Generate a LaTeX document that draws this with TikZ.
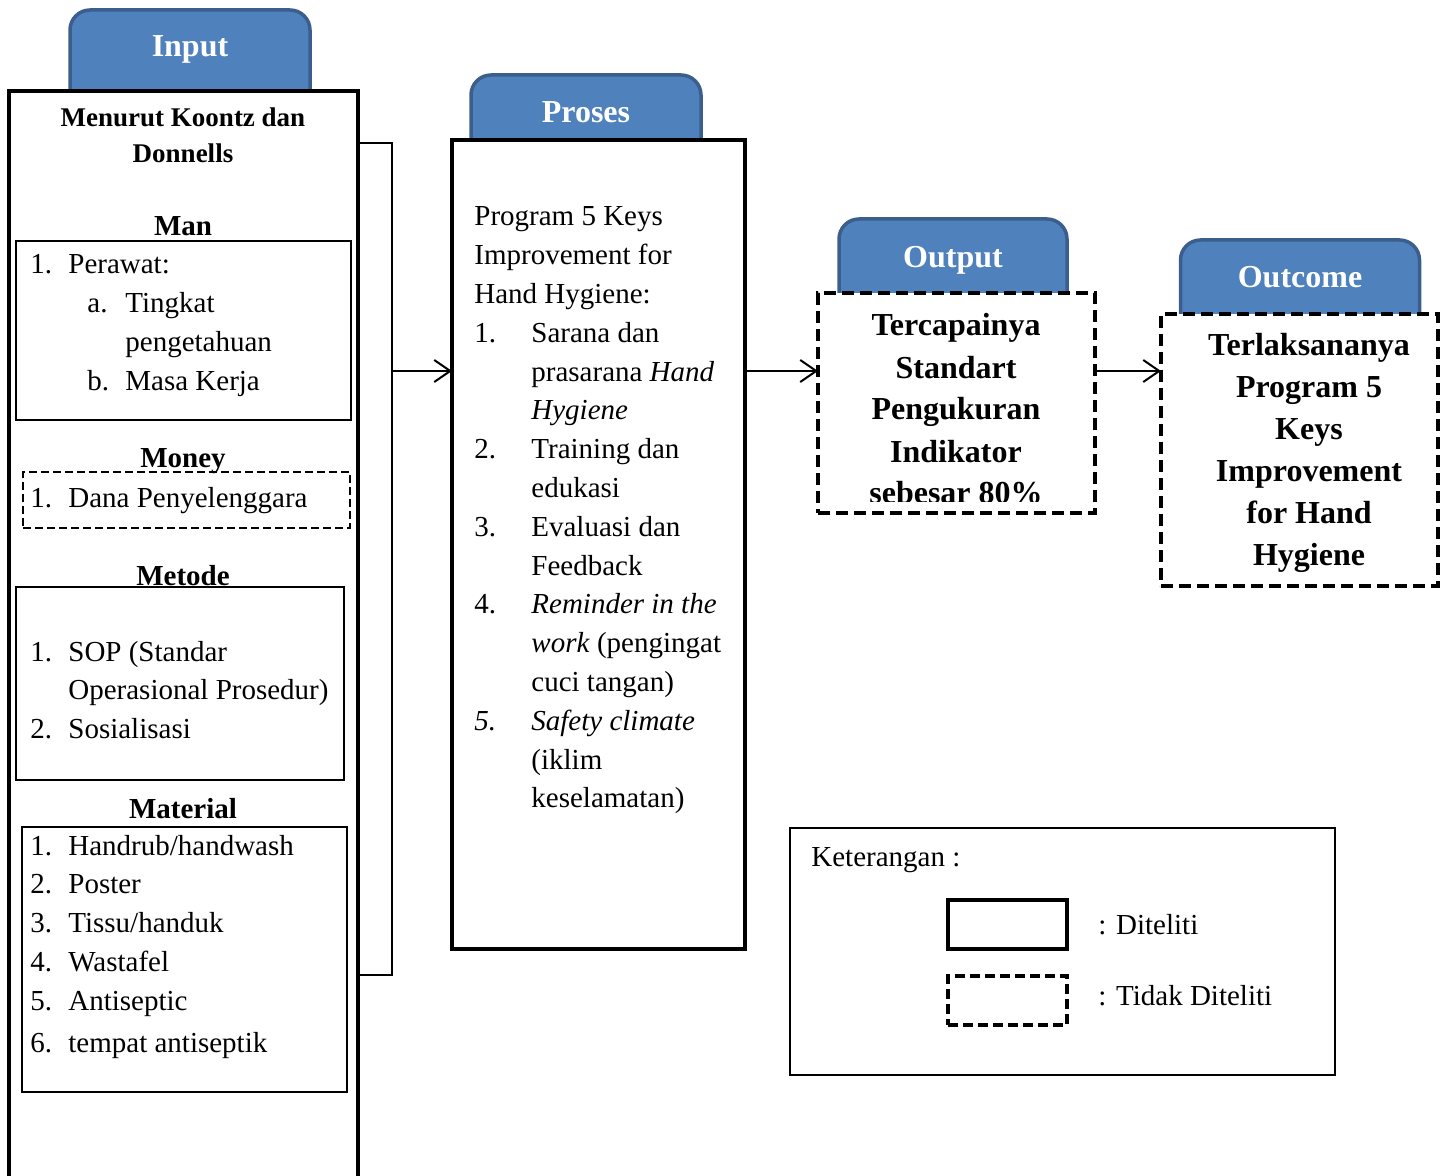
\documentclass[tikz,border=0pt]{standalone}
\usepackage{fontspec}
\setmainfont{Liberation Serif}
\usetikzlibrary{arrows.meta}

\definecolor{tabblue}{HTML}{4F81BD}
\definecolor{tabedge}{HTML}{3B5E8C}

\newcommand{\bodyfont}{\fontsize{14.5pt}{19.4pt}\selectfont}

\tikzset{
  tab/.style={draw=tabedge, line width=1.75pt, fill=tabblue, rounded corners=10pt, anchor=north, inner sep=0pt, outer sep=0pt},
  tabtext/.style={anchor=base, text=white, font=\fontsize{16pt}{19pt}\selectfont\bfseries, inner sep=0pt},
  mainbox/.style={draw, line width=2pt, fill=white, anchor=north west, inner sep=0pt, outer sep=0pt},
  dashbox/.style={draw, line width=2pt, dash pattern=on 6pt off 3pt, fill=white, anchor=north west, inner sep=0pt, outer sep=0pt},
  itembox/.style={draw, line width=1.25pt, anchor=north west, inner sep=0pt, outer sep=0pt},
  head/.style={anchor=base, font=\fontsize{14.5pt}{17pt}\selectfont\bfseries, inner sep=0pt},
  list/.style={anchor=base west, font=\bodyfont, inner sep=0pt},
  bigtext/.style={anchor=base, font=\fontsize{16pt}{21pt}\selectfont\bfseries, inner sep=0pt},
  conn/.style={line width=1pt, -{Straight Barb[length=8pt,width=11pt,line width=1pt]}},
}

\begin{document}
\begin{tikzpicture}[x=0.5pt,y=-0.5pt]
\useasboundingbox (0,0) rectangle (1445,1176);

% input
\node[tab, minimum width=120pt, minimum height=50pt] (inputtab) at (190,10) {};
\node[tabtext] (inputlabel) at (190,57) {Input};
\node[mainbox, minimum width=174.5pt, minimum height=560pt] (inputbox) at (9,91) {};
\node[head, font=\fontsize{13.5pt}{18pt}\selectfont\bfseries] (koontz) at (183,127)
  {\begin{tabular}[t]{@{}c@{}}Menurut Koontz dan\\Donnells\end{tabular}};

% man
\node[head] (man) at (183,236) {Man};
\node[itembox, minimum width=167.5pt, minimum height=89.5pt] (manbox) at (16,241) {};
\node[list] (manlist) at (30,274) {\begin{tabular}[t]{@{}p{19pt}@{}l@{}}
1. & Perawat:\\
   & \hspace{9.5pt}\makebox[19pt][l]{a.}Tingkat\\
   & \hspace{28.5pt}pengetahuan\\
   & \hspace{9.5pt}\makebox[19pt][l]{b.}Masa Kerja
\end{tabular}};

% money
\node[itembox, line width=1pt, dash pattern=on 4pt off 2pt, minimum width=163.5pt, minimum height=28pt] (moneybox) at (23,472) {};
\node[head] (money) at (183,467) {Money};
\node[list] (moneylist) at (30,507) {\begin{tabular}[t]{@{}p{19pt}@{}l@{}}
1. & Dana Penyelenggara
\end{tabular}};

% metode
\node[itembox, minimum width=164pt, minimum height=96.5pt] (metodebox) at (16,587) {};
\node[head] (metode) at (183,585) {Metode};
\node[list] (metodelist) at (30,661) {\begin{tabular}[t]{@{}p{19pt}@{}l@{}}
1. & SOP (Standar\\
   & Operasional Prosedur)\\
2. & Sosialisasi
\end{tabular}};

% material
\node[head] (material) at (183,818) {Material};
\node[itembox, minimum width=162.5pt, minimum height=132.5pt] (materialbox) at (22,827) {};
\node[list] (materiallist) at (30,855) {\begin{tabular}[t]{@{}p{19pt}@{}l@{}}
1. & Handrub/handwash\\
2. & Poster\\
3. & Tissu/handuk\\
4. & Wastafel\\
5. & Antiseptic\\[1.5pt]
6. & tempat antiseptik
\end{tabular}};

% bracket
\coordinate (brk) at (392,371);
\draw[line width=1pt] (inputbox.north east |- 0,143) -| (brk) |- (inputbox.east |- 0,975);

% proses
\node[tab, minimum width=115pt, minimum height=42.5pt] (prosestab) at (586,75) {};
\node[tabtext] (proseslabel) at (586,123) {Proses};
\node[mainbox, minimum width=146.5pt, minimum height=404.5pt] (prosesbox) at (452,140) {};
\node[list] (proseslist) at (474,226) {\begin{tabular}[t]{@{}p{28.5pt}@{}l@{}}
\multicolumn{2}{@{}l@{}}{Program 5 Keys}\\
\multicolumn{2}{@{}l@{}}{Improvement for}\\
\multicolumn{2}{@{}l@{}}{Hand Hygiene:}\\
1. & Sarana dan\\
   & prasarana \textit{Hand}\\
   & \textit{Hygiene}\\
2. & Training dan\\
   & edukasi\\
3. & Evaluasi dan\\
   & Feedback\\
4. & \textit{Reminder in the}\\
   & \textit{work} (pengingat\\
   & cuci tangan)\\
\textit{5.} & \textit{Safety climate}\\
   & (iklim\\
   & keselamatan)
\end{tabular}};
\draw[conn] (brk) -- (brk -| prosesbox.west);

% output
\node[tab, minimum width=114pt, minimum height=47pt] (outputtab) at (953,219) {};
\node[tabtext] (outputlabel) at (953,268) {Output};
\node[dashbox, minimum width=138.5pt, minimum height=110pt] (outputbox) at (818,293) {};
\begin{scope}
  \clip (818,293) rectangle (1095,501);
  \node[bigtext] (outputtext) at (956,336) {\begin{tabular}[t]{@{}c@{}}
  Tercapainya\\Standart\\Pengukuran\\Indikator\\sebesar 80\%
  \end{tabular}};
\end{scope}
\draw[conn] (brk -| prosesbox.east) -- (brk -| outputbox.west);

% outcome
\node[tab, minimum width=119.5pt, minimum height=47pt] (outcometab) at (1300,240) {};
\node[tabtext] (outcomelabel) at (1300,288) {Outcome};
\node[dashbox, minimum width=138.5pt, minimum height=136pt] (outcomebox) at (1161,314) {};
\node[bigtext] (outcometext) at (1309,356) {\begin{tabular}[t]{@{}c@{}}
Terlaksananya\\Program 5\\Keys\\Improvement\\for Hand\\Hygiene
\end{tabular}};
\draw[conn] (brk -| outputbox.east) -- (brk -| outcomebox.west);

% keterangan
\node[itembox, line width=1pt, minimum width=272.5pt, minimum height=123.5pt] (legendbox) at (790,828) {};
\node[list] (legendtitle) at (811,866) {Keterangan :};
\node[itembox, line width=1.75pt, minimum width=59.5pt, minimum height=24.5pt] (solidkey) at (948,900) {};
\node[list] (solidlabel) at (1098,934) {: Diteliti};
\node[itembox, line width=2pt, dash pattern=on 5pt off 2.5pt, minimum width=59.5pt, minimum height=24.5pt] (dashkey) at (948,976) {};
\node[list] (dashlabel) at (1098,1005) {: Tidak Diteliti};
\end{tikzpicture}
\end{document}
